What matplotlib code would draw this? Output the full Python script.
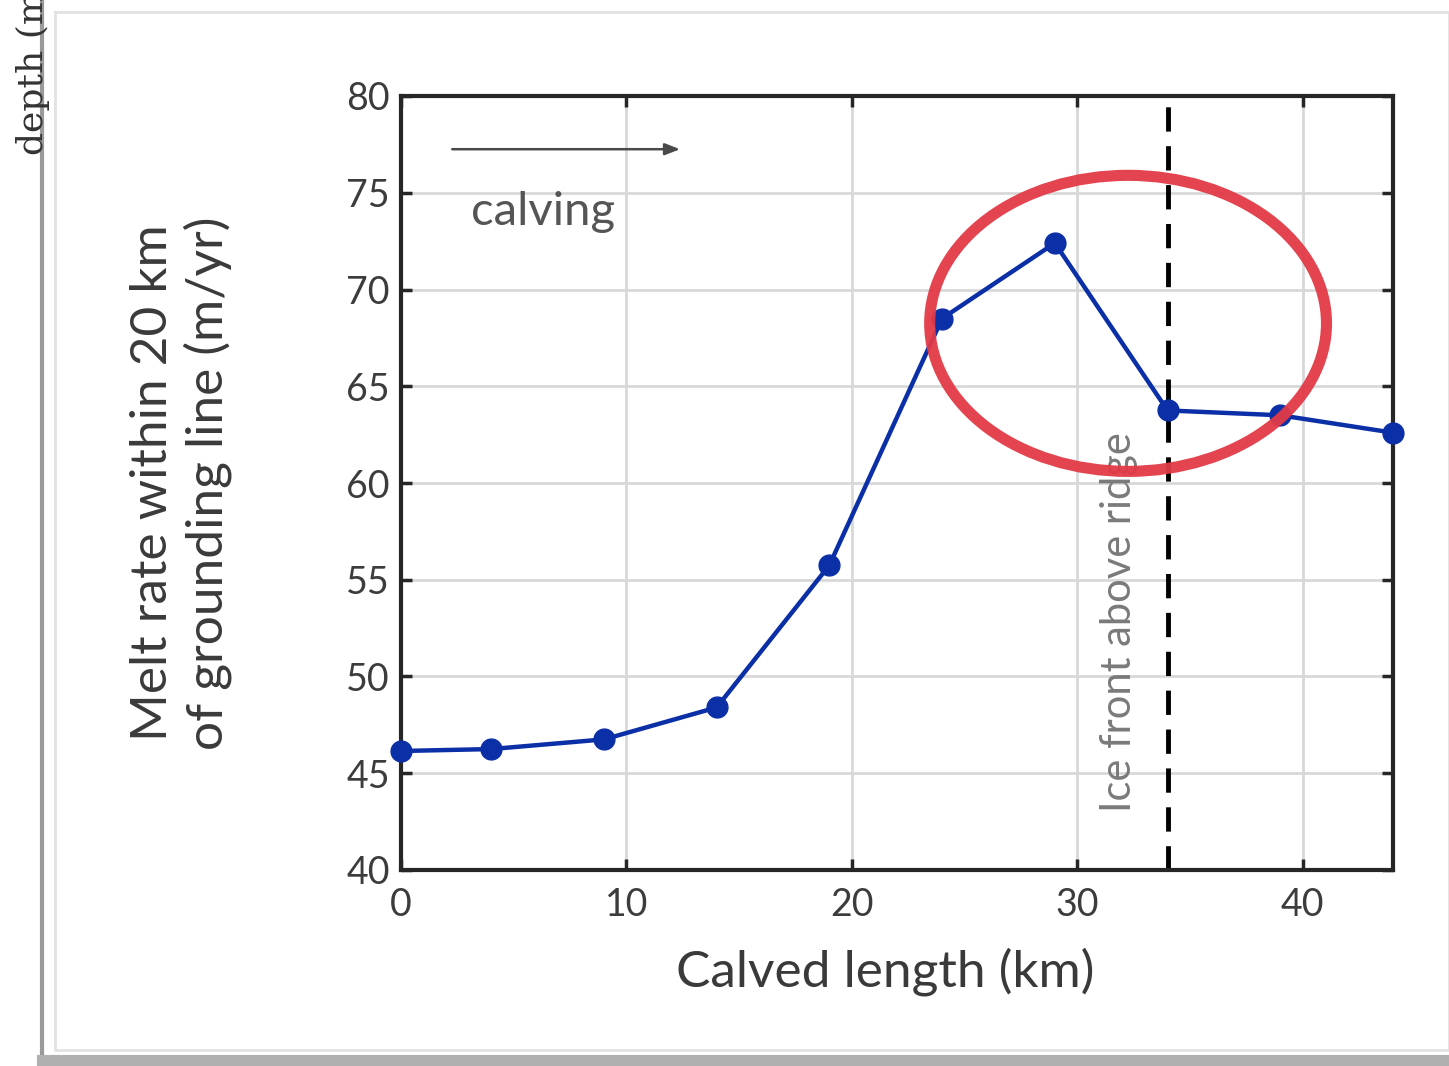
import matplotlib
matplotlib.use("Agg")
import matplotlib.pyplot as plt
from matplotlib.patches import Ellipse
from matplotlib.lines import Line2D

calved_km = [0, 4, 9, 14, 19, 24, 29, 34, 39, 44]
melt_rate = [46.15, 46.25, 46.75, 48.4, 55.75, 68.5, 72.4, 63.75, 63.5, 62.6]
xticks = [0, 10, 20, 30, 40]
yticks = [40, 45, 50, 55, 60, 65, 70, 75, 80]
ridge_x = 34

plt.rcParams['font.family'] = ['Lato', 'DejaVu Sans']

fig = plt.figure(figsize=(14.49, 10.66), dpi=100)
ax = fig.add_axes([401/1449, 1-870/1066, (1393-401)/1449, (870-96)/1066])

ax.set_xlim(0, 44)
ax.set_ylim(40, 80)
ax.set_xticks(xticks)
ax.set_yticks(yticks)
ax.grid(True, color='#d8d8d8', lw=2)
ax.set_axisbelow(True)
for s in ax.spines.values():
    s.set_color('#262626')
    s.set_linewidth(3)
ax.tick_params(direction='in', length=8, width=2.5, color='#262626',
               top=True, right=True, labelsize=27, labelcolor='#3c3c3c')
ax.tick_params(axis='x', pad=12)
ax.tick_params(axis='y', pad=8)

ax.axvline(ridge_x, color='black', lw=3.5, ls=(0, (5, 3)), zorder=2)
ax.plot(calved_km, melt_rate, color='#0b2fa6', lw=3.2, marker='o', ms=15,
        mec='#0b2fa6', mfc='#0b2fa6', zorder=4, clip_on=False)

ax.annotate('', xy=(12.5, 77.25), xytext=(2.15, 77.25),
            arrowprops=dict(arrowstyle='-|>,head_length=0.9,head_width=0.35',
                            color='#4a4a4a', lw=1.8))
ax.text(6.3, 74.0, 'calving', fontsize=34, color='#555555', ha='center',
        va='center')
ax.text(31.85, 43.0, 'Ice front above ridge', rotation=90, fontsize=30,
        color='#7a7a7a', ha='center', va='bottom')

ell = Ellipse((32.25, 68.25), 17.6, 15.3, fill=False, ec='#e23a46', lw=8,
              zorder=6, alpha=0.95)
ax.add_patch(ell)

ax.set_xlabel('Calved length (km)', fontsize=37, color='#3a3a3a', labelpad=20)
ax.xaxis.set_label_coords(0.488, -0.1)
ax.xaxis.label.set_va('top')
ax.set_ylabel('Melt rate within 20 km\nof grounding line (m/yr)', fontsize=37,
              color='#3a3a3a', labelpad=40, linespacing=1.2)
ax.yaxis.set_label_coords(-0.17, 0.5)

# page frame decorations
fig.add_artist(Line2D([42/1449, 42/1449], [0, 1], transform=fig.transFigure,
                      color='#9a9a9a', lw=3))
fig.add_artist(Line2D([55/1449, 1, 1, 55/1449, 55/1449],
                      [1-12/1066, 1-12/1066, 1-1050/1066, 1-1050/1066, 1-12/1066],
                      transform=fig.transFigure, color='#e2e2e2', lw=2))
fig.add_artist(Line2D([42/1449, 1], [1-1060/1066, 1-1060/1066],
                      transform=fig.transFigure, color='#b0b0b0', lw=8))
fig.text(33/1449, 1-155/1066, 'depth (m)', rotation=90, fontsize=26,
         family='DejaVu Serif', color='#333333', ha='center', va='bottom')

fig.savefig('out.png', dpi=100, facecolor='white')
